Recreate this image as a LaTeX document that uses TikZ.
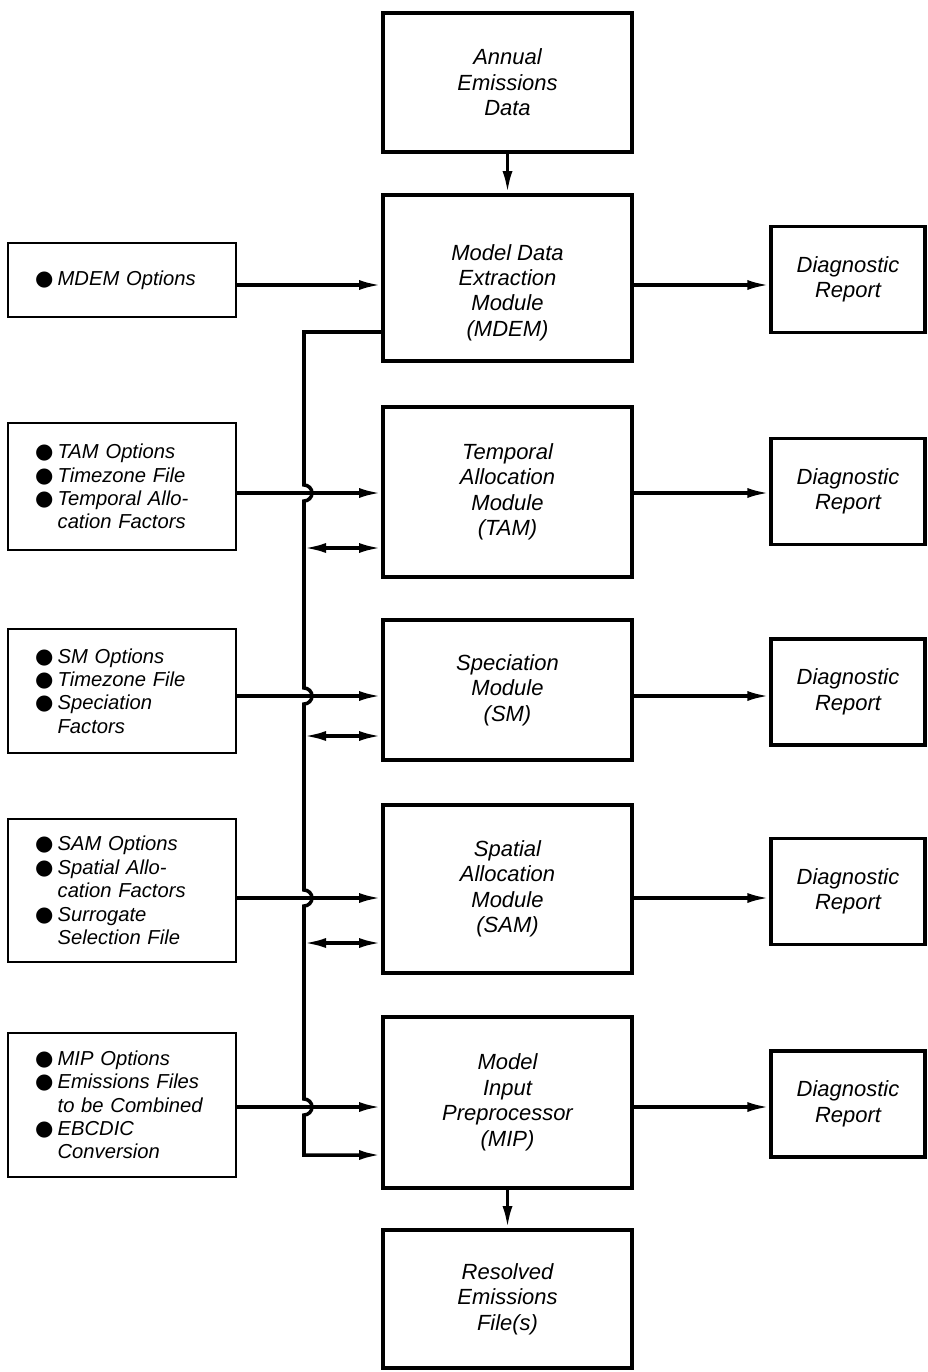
\documentclass[tikz,border=0pt]{standalone}
\usepackage{fontspec}
\setmainfont{Liberation Sans}
\newfontfamily\dotsym{DejaVu Sans}
\usepackage{tikz}
\usetikzlibrary{arrows.meta}
\newcommand{\boxfont}{\fontsize{12.5}{14.5}\selectfont\itshape}
\newcommand{\itemfont}{\fontsize{11.5}{13.3}\selectfont\itshape}
\newcommand{\optdot}{\makebox[1.12em][l]{\dotsym\upshape\fontsize{12}{12}\selectfont ●}}
\newcommand{\optgap}{\hspace*{1.12em}}

\begin{document}
\begin{tikzpicture}[x=0.02cm, y=-0.02cm,
  modbox/.style={draw, line width=2.2pt, minimum width=4.98cm,
                 align=center, font=\boxfont},
  optbox/.style={draw, line width=1.6pt, text width=3.48cm,
                 inner xsep=0.54cm, align=left, font=\itemfont},
  repbox/.style={draw, line width=1.9pt, minimum width=3.08cm,
                 minimum height=2.12cm, align=center, font=\boxfont},
  flow/.style={line width=1.9pt, -{Latex[length=0.44cm,width=0.2cm]}},
  twoway/.style={line width=1.9pt,
                 {Latex[length=0.44cm,width=0.2cm]}-{Latex[length=0.44cm,width=0.2cm]}}
]
\useasboundingbox (0,0) rectangle (927,1372);

%% Processing modules
\node[modbox, minimum height=2.78cm] (annual) at (507.5,82.5) {Annual\\Emissions\\Data};
\node[modbox, minimum height=3.32cm] (mdem) at (507.5,278)
  {\rule{0pt}{0.9cm}Model Data\\Extraction\\Module\\(MDEM)};
\node[modbox, minimum height=3.4cm]  (tam)  at (507.5,492)  {Temporal\\Allocation\\Module\\(TAM)};
\node[modbox, minimum height=2.8cm]  (sm)   at (507.5,690)  {Speciation\\Module\\(SM)};
\node[modbox, minimum height=3.36cm] (sam)  at (507.5,889)  {Spatial\\Allocation\\Module\\(SAM)};
\node[modbox, minimum height=3.42cm] (mip)  at (507.5,1102.5) {Model\\Input\\Preprocessor\\(MIP)};
\node[modbox, minimum height=2.76cm] (res)  at (507.5,1299) {Resolved\\Emissions\\File(s)};

%% Option inputs
\node[optbox, minimum height=1.48cm] (optmdem) at (122,280) {\optdot MDEM Options};
\node[optbox, minimum height=2.54cm] (opttam) at (122,486.5)
  {\optdot TAM Options\\ \optdot Timezone File\\ \optdot Temporal Allo-\\ \optgap cation Factors};
\node[optbox, minimum height=2.48cm] (optsm) at (122,691)
  {\optdot SM Options\\ \optdot Timezone File\\ \optdot Speciation\\ \optgap Factors};
\node[optbox, minimum height=2.86cm] (optsam) at (122,890.5)
  {\optdot SAM Options\\ \optdot Spatial Allo-\\ \optgap cation Factors\\ \optdot Surrogate\\ \optgap Selection File};
\node[optbox, minimum height=2.88cm] (optmip) at (122,1105)
  {\optdot MIP Options\\ \optdot Emissions Files\\ \optgap to be Combined\\ \optdot EBCDIC\\ \optgap Conversion};

%% Diagnostic reports
\foreach \m/\yy in {mdem/279.5,tam/491.5,sm/692,sam/891.5,mip/1104}
  \node[repbox] (rep\m) at (848,\yy) {Diagnostic\\Report};

\foreach \m/\yy in {mdem/285,tam/493,sm/696,sam/898,mip/1107} {
  \coordinate (row\m) at (0,\yy);
  \draw[flow] (opt\m.east |- row\m) -- (\m.west |- row\m);
  \draw[flow] (\m.east |- row\m) -- (rep\m.west |- row\m);
}

\draw[flow] (annual) -- (mdem);
\draw[flow] (mip) -- (res);

%% Bus from MDEM down to MIP, hopping over the input lines
\coordinate (busTop) at (304,332);
\coordinate (busEnd) at (304,1155);
\draw[flow, line width=2pt] (mdem.west |- busTop) -- (busTop)
  \foreach \yy in {493,696,898,1107} {
    -- (304,\yy-8) arc[start angle=90, end angle=-90, radius=0.16cm] }
  -- (busEnd) -- (busEnd -| mip.west);

\foreach \m/\yy in {tam/548,sm/736,sam/943} {
  \coordinate (tap\m) at (304,\yy);
  \draw[twoway] (tap\m) -- (tap\m -| \m.west);
}

\end{tikzpicture}
\end{document}
